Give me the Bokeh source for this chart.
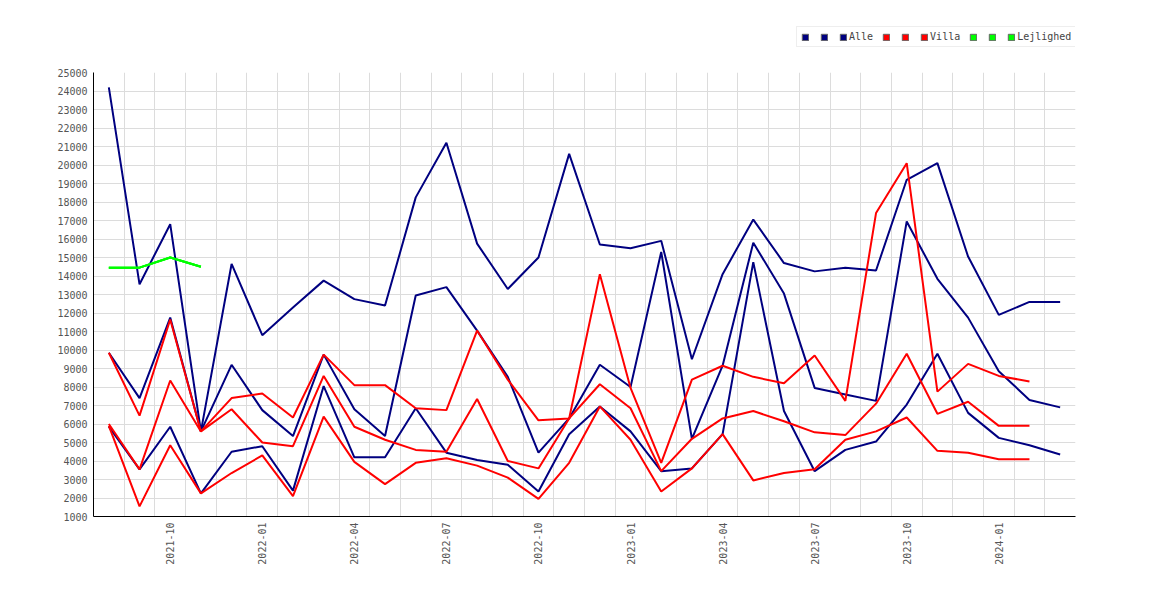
import math
from bokeh.plotting import figure
from bokeh.layouts import column
from bokeh.models import (FixedTicker, Legend, LegendItem, Range1d,
                          ColumnDataSource, NumeralTickFormatter)
from bokeh.embed import file_html
from bokeh.resources import INLINE

nan = float("nan")

months = ["2021-08", "2021-09", "2021-10", "2021-11", "2021-12",
          "2022-01", "2022-02", "2022-03", "2022-04", "2022-05", "2022-06",
          "2022-07", "2022-08", "2022-09", "2022-10", "2022-11", "2022-12",
          "2023-01", "2023-02", "2023-03", "2023-04", "2023-05", "2023-06",
          "2023-07", "2023-08", "2023-09", "2023-10", "2023-11", "2023-12",
          "2024-01", "2024-02", "2024-03"]

tick_months = ["2021-10", "2022-01", "2022-04", "2022-07", "2022-10",
               "2023-01", "2023-04", "2023-07", "2023-10", "2024-01"]

y_ticks = list(range(1000, 25001, 1000))

alle_high = [24200, 13550, 16800, 5600, 14650, 10800, 12300, 13750, 12750, 12400,
             18250, 21200, 15750, 13300, 15000, 20600, 15700, 15500, 15900, 9500,
             14100, 17050, 14700, 14250, 14450, 14300, 19200, 20100, 15050, 11900,
             12600, 12600]
alle_mid = [9850, 7400, 11750, 5600, 9200, 6750, 5350, 9750, 6800, 5350,
            12950, 13400, 11050, 8550, 4450, 6300, 9200, 8000, 15300, 5200,
            9150, 15800, 13050, 7950, 7600, 7250, 16950, 13850, 11750, 8850,
            7300, 6900]
alle_low = [5850, 3550, 5850, 2250, 4500, 4800, 2400, 8050, 4200, 4200,
            6850, 4450, 4050, 3800, 2350, 5450, 6950, 5600, 3450, 3600,
            5450, 14750, 6700, 3450, 4600, 5050, 7050, 9800, 6600, 5250,
            4850, 4350]

villa_high = [9850, 6450, 11650, 5600, 7400, 7650, 6350, 9750, 8100, 8100,
              6850, 6750, 11050, 8400, 6200, 6300, 14100, 7950, 3900, 8400,
              9150, 8550, 8200, 9700, 7250, 17400, 20100, 7750, 9250, 8600,
              8300, nan]
villa_mid = [6000, 3550, 8350, 5600, 6800, 5000, 4800, 8600, 5850, 5150,
             4600, 4500, 7350, 4000, 3600, 6300, 8150, 6850, 3450, 5200,
             6300, 6700, 6150, 5550, 5400, 7100, 9800, 6550, 7200, 5900,
             5900, nan]
villa_low = [5900, 1550, 4850, 2250, 3350, 4300, 2100, 6400, 3950, 2750,
             3900, 4150, 3750, 3100, 1950, 3900, 6950, 5150, 2350, 3600,
             5450, 2950, 3350, 3550, 5150, 5600, 6350, 4550, 4450, 4100,
             4100, nan]

lejl_high = [14450, 14450, 15000, 14500] + [nan] * 28
lejl_mid = [14450, 14450, 15000, 14500] + [nan] * 28
lejl_low = [14450, 14450, 15000, 14500] + [nan] * 28

NAVY = "#000080"
RED = "#ff0000"
GREEN = "#00ff00"
FONT = "DejaVu Sans Mono"
W = 1154

x = list(range(len(months)))
src = ColumnDataSource(dict(
    x=x,
    alle_high=alle_high, alle_mid=alle_mid, alle_low=alle_low,
    villa_high=villa_high, villa_mid=villa_mid, villa_low=villa_low,
    lejl_high=lejl_high, lejl_mid=lejl_mid, lejl_low=lejl_low,
))

# ---------------- main chart ----------------
p = figure(width=W, height=520, output_backend="svg", toolbar_location=None,
           x_range=Range1d(-0.5, len(months) - 0.5), y_range=Range1d(1000, 25000),
           min_border_left=93, min_border_right=79, min_border_top=8,
           min_border_bottom=68)
p.outline_line_color = None
p.background_fill_color = "white"
p.border_fill_color = "white"

p.xgrid.ticker = FixedTicker(ticks=[k + 0.5 for k in range(0, len(months) - 1)])
p.xgrid.grid_line_color = "#dcdcdc"
p.ygrid.grid_line_color = "#dcdcdc"

p.yaxis.ticker = FixedTicker(ticks=y_ticks)
p.yaxis.formatter = NumeralTickFormatter(format="0")
tick_pos = [months.index(m) for m in tick_months]
p.xaxis.ticker = FixedTicker(ticks=tick_pos)
p.xaxis.major_label_overrides = {pos: m for pos, m in zip(tick_pos, tick_months)}
p.xaxis.major_label_orientation = math.pi / 2
for ax in (p.xaxis, p.yaxis):
    ax.axis_line_color = "black"
    ax.axis_line_width = 1
    ax.major_tick_out = 0
    ax.major_tick_in = 0
    ax.minor_tick_out = 0
    ax.minor_tick_in = 0
    ax.major_label_text_font = FONT
    ax.major_label_text_font_size = "10px"
    ax.major_label_text_color = "#555555"
    ax.major_label_standoff = 6

LW = 2
series = [("alle_high", NAVY), ("alle_mid", NAVY), ("alle_low", NAVY),
          ("villa_high", RED), ("villa_mid", RED), ("villa_low", RED),
          ("lejl_high", GREEN), ("lejl_mid", GREEN), ("lejl_low", GREEN)]
for col, color in series:
    p.line("x", col, source=src, line_color=color, line_width=LW)

# ---------------- legend strip ----------------
lg = figure(width=W, height=64, output_backend="svg", toolbar_location=None,
            x_axis_location=None, y_axis_location=None,
            x_range=Range1d(0, 1), y_range=Range1d(0, 1),
            min_border_left=0, min_border_right=0, min_border_top=0,
            min_border_bottom=0)
lg.outline_line_color = None
lg.background_fill_color = "white"
lg.border_fill_color = "white"
lg.xgrid.visible = False
lg.ygrid.visible = False

labels = ["", "", "Alle", "", "", "Villa", "", "", "Lejlighed"]
items = []
for (col, color), lab in zip(series, labels):
    # swatch renderer kept outside the visible range; only its legend glyph shows
    sw = lg.quad(left=[5], right=[6], top=[6], bottom=[5], fill_color=color,
                 line_color="#666666", line_width=1)
    items.append(LegendItem(label=lab, renderers=[sw]))

legend = Legend(items=items, orientation="horizontal", location=(703, 17),
                glyph_width=8, glyph_height=8, label_height=8, label_width=0,
                label_standoff=2, spacing=9, padding=4, margin=0,
                label_text_font=FONT, label_text_font_size="10px",
                label_text_color="#444444",
                border_line_color="#dddddd", border_line_width=1,
                background_fill_color="white", background_fill_alpha=1.0)
lg.add_layout(legend)

layout = column(lg, p, spacing=0)
open("out.html", "w").write(file_html(layout, INLINE))
